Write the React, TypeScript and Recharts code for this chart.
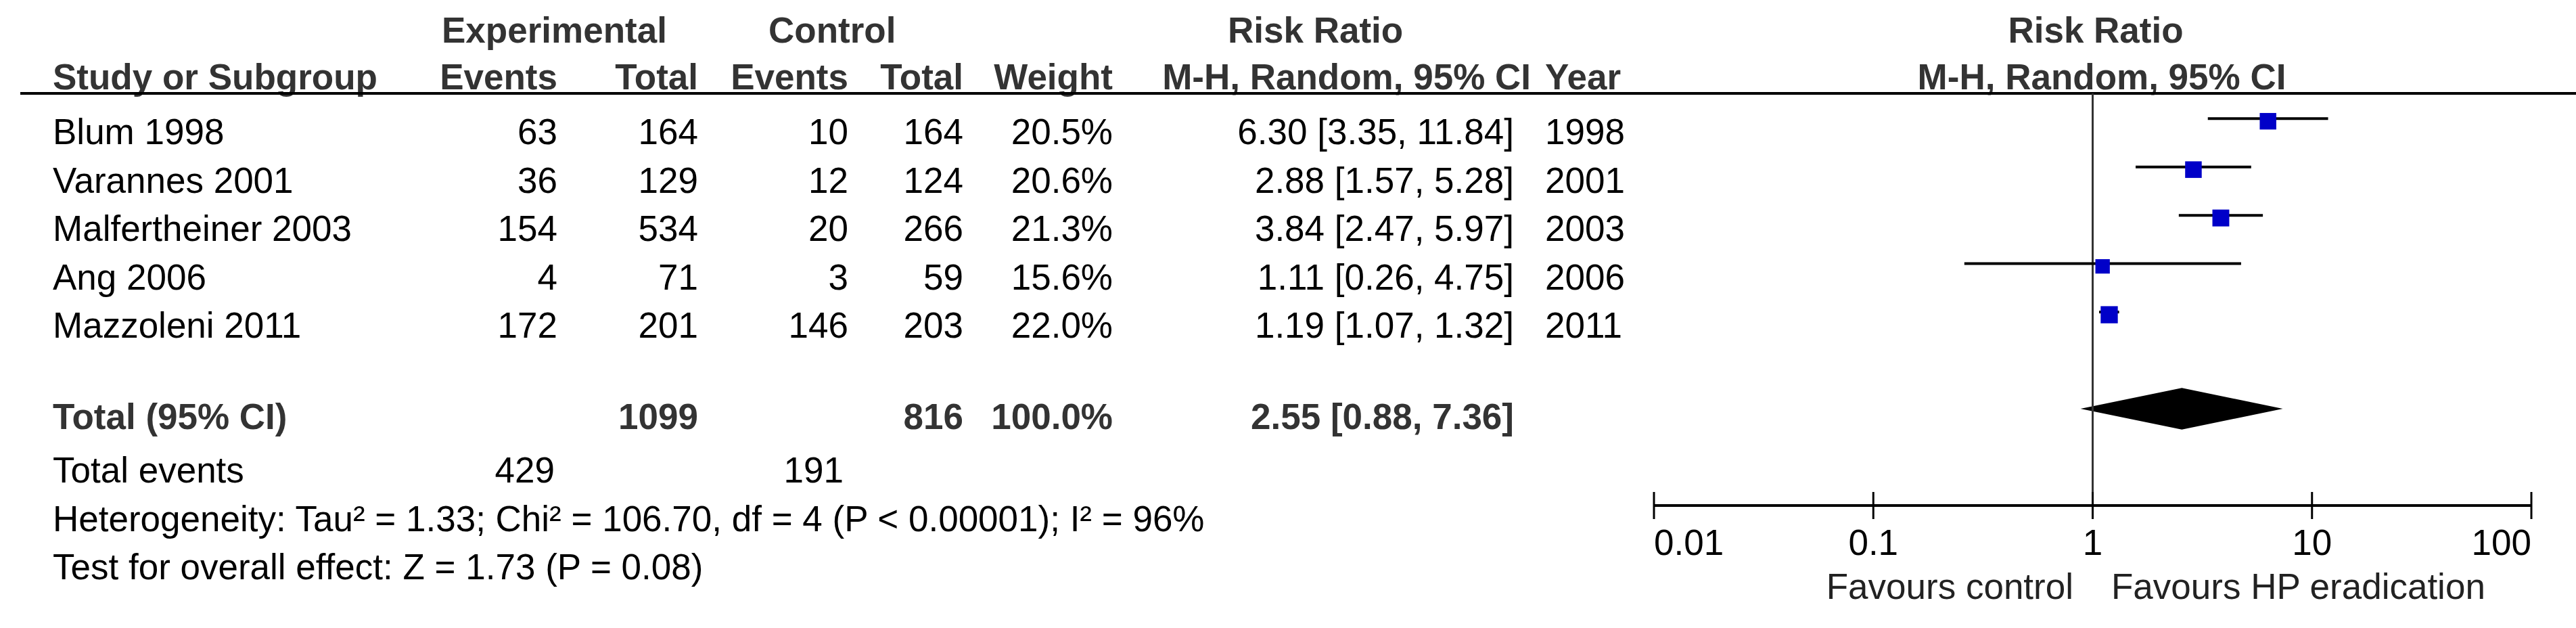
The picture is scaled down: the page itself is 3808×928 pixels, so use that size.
import React from 'react';
import {
  ComposedChart,
  XAxis,
  YAxis,
  Scatter,
  ReferenceLine,
  ReferenceArea,
  Customized,
} from 'recharts';

// ---------------- data ----------------
const studies = ['Blum 1998', 'Varannes 2001', 'Malfertheiner 2003', 'Ang 2006', 'Mazzoleni 2011'];
const expEvents = [63, 36, 154, 4, 172];
const expTotals = [164, 129, 534, 71, 201];
const ctrlEvents = [10, 12, 20, 3, 146];
const ctrlTotals = [164, 124, 266, 59, 203];
const weights = [20.5, 20.6, 21.3, 15.6, 22.0];
const riskRatios = [6.3, 2.88, 3.84, 1.11, 1.19];
const ciLows = [3.35, 1.57, 2.47, 0.26, 1.07];
const ciHighs = [11.84, 5.28, 5.97, 4.75, 1.32];
const years = [1998, 2001, 2003, 2006, 2011];

const totalExpN = 1099;
const totalCtrlN = 816;
const totalWeight = 100.0;
const totalRR = 2.55;
const totalLow = 0.88;
const totalHigh = 7.36;
const totalExpEvents = 429;
const totalCtrlEvents = 191;
const heterogeneityText = 'Heterogeneity: Tau\u00B2 = 1.33; Chi\u00B2 = 106.70, df = 4 (P < 0.00001); I\u00B2 = 96%';
const overallEffectText = 'Test for overall effect: Z = 1.73 (P = 0.08)';

const xTicks = [0.01, 0.1, 1, 10, 100];
const xTickLabels = ['0.01', '0.1', '1', '10', '100'];
const favoursLeft = 'Favours control';
const favoursRight = 'Favours HP eradication';

// row index of each study (0..4) and of the pooled estimate
const studyRows = [0, 1, 2, 3, 4];
const totalRow = 6;

// ---------------- layout ----------------
const W = 3808;
const H = 928;
const PLOT_LEFT = 2445;
const PLOT_RIGHT = 3742;
const PLOT_TOP = 138;
const PLOT_BOTTOM = 747;
const ROW_MIN = -0.52;
const ROW_MAX = 8;
const DIAMOND_HALF = 0.43;

const FONT = '"Liberation Sans", Arial, Helvetica, sans-serif';
const FS = 53;
const HEAD = '#333';

const COL = {
  name: 78,
  expEv: 824,
  expTot: 1032,
  ctlEv: 1254,
  ctlTot: 1424,
  weight: 1645,
  ci: 2238,
  ciHead: 2263,
  year: 2284,
  expHead: 653,
  ctlHead: 1136,
  rrHead: 1815,
};
const BASE = {
  h1: 63,
  h2: 132,
  firstRow: 213,
  rowStep: 71.5,
  total: 634,
  events: 713,
  het: 785,
  test: 856,
  tick: 73,
  favours: 885,
};

const fmt2 = (v: number) => v.toFixed(2);
const ciText = (r: number, l: number, h: number) => `${fmt2(r)} [${fmt2(l)}, ${fmt2(h)}]`;

const points = studies.map((s, i) => ({
  x: riskRatios[i],
  y: studyRows[i],
  weight: weights[i],
}));

type TProps = {
  x: number;
  y: number;
  anchor?: 'start' | 'middle' | 'end';
  bold?: boolean;
  color?: string;
  children: React.ReactNode;
};
const T = ({ x, y, anchor = 'start', bold = false, color = '#000', children }: TProps) => (
  <text
    x={x}
    y={y}
    textAnchor={anchor}
    fontFamily={FONT}
    fontSize={FS}
    fontWeight={bold ? 'bold' : 'normal'}
    fill={color}
  >
    {children}
  </text>
);

const TableLayer = () => {
  const plotMid = 3100;
  return (
    <g>
      {/* header row 1 */}
      <T x={COL.expHead} y={BASE.h1} bold color={HEAD}>Experimental</T>
      <T x={COL.ctlHead} y={BASE.h1} bold color={HEAD}>Control</T>
      <T x={COL.rrHead} y={BASE.h1} bold color={HEAD}>Risk Ratio</T>
      <T x={3098} y={BASE.h1} anchor="middle" bold color={HEAD}>Risk Ratio</T>
      {/* header row 2 */}
      <T x={COL.name} y={BASE.h2} bold color={HEAD}>Study or Subgroup</T>
      <T x={COL.expEv} y={BASE.h2} anchor="end" bold color={HEAD}>Events</T>
      <T x={COL.expTot} y={BASE.h2} anchor="end" bold color={HEAD}>Total</T>
      <T x={COL.ctlEv} y={BASE.h2} anchor="end" bold color={HEAD}>Events</T>
      <T x={COL.ctlTot} y={BASE.h2} anchor="end" bold color={HEAD}>Total</T>
      <T x={COL.weight} y={BASE.h2} anchor="end" bold color={HEAD}>Weight</T>
      <T x={COL.ciHead} y={BASE.h2} anchor="end" bold color={HEAD}>M-H, Random, 95% CI</T>
      <T x={COL.year} y={BASE.h2} bold color={HEAD}>Year</T>
      <T x={3107} y={BASE.h2} anchor="middle" bold color={HEAD}>M-H, Random, 95% CI</T>
      <line x1={30} x2={W} y1={PLOT_TOP} y2={PLOT_TOP} stroke="#000" strokeWidth={4} />

      {/* study rows */}
      {studies.map((s, i) => {
        const y = BASE.firstRow + BASE.rowStep * studyRows[i];
        return (
          <g key={s}>
            <T x={COL.name} y={y}>{s}</T>
            <T x={COL.expEv} y={y} anchor="end">{expEvents[i]}</T>
            <T x={COL.expTot} y={y} anchor="end">{expTotals[i]}</T>
            <T x={COL.ctlEv} y={y} anchor="end">{ctrlEvents[i]}</T>
            <T x={COL.ctlTot} y={y} anchor="end">{ctrlTotals[i]}</T>
            <T x={COL.weight} y={y} anchor="end">{`${weights[i].toFixed(1)}%`}</T>
            <T x={COL.ci} y={y} anchor="end">{ciText(riskRatios[i], ciLows[i], ciHighs[i])}</T>
            <T x={COL.year} y={y}>{years[i]}</T>
          </g>
        );
      })}

      {/* total row */}
      <T x={COL.name} y={BASE.total} bold color={HEAD}>Total (95% CI)</T>
      <T x={COL.expTot} y={BASE.total} anchor="end" bold color={HEAD}>{totalExpN}</T>
      <T x={COL.ctlTot} y={BASE.total} anchor="end" bold color={HEAD}>{totalCtrlN}</T>
      <T x={COL.weight} y={BASE.total} anchor="end" bold color={HEAD}>{`${totalWeight.toFixed(1)}%`}</T>
      <T x={COL.ci} y={BASE.total} anchor="end" bold color={HEAD}>{ciText(totalRR, totalLow, totalHigh)}</T>

      <T x={COL.name} y={BASE.events}>Total events</T>
      <T x={COL.expEv - 4} y={BASE.events} anchor="end">{totalExpEvents}</T>
      <T x={COL.ctlEv - 7} y={BASE.events} anchor="end">{totalCtrlEvents}</T>
      <T x={COL.name} y={BASE.het}>{heterogeneityText}</T>
      <T x={COL.name} y={BASE.test}>{overallEffectText}</T>

      {/* favours labels */}
      <T x={plotMid - 35} y={BASE.favours} anchor="end" color="#222">{favoursLeft}</T>
      <T x={plotMid + 21} y={BASE.favours} color="#222">{favoursRight}</T>
    </g>
  );
};

const AxisTick = (props: any) => {
  const { x, y, index } = props;
  const anchor = index === 0 ? 'start' : index === xTicks.length - 1 ? 'end' : 'middle';
  return (
    <g>
      <line x1={x} x2={x} y1={y - 20} y2={y + 20} stroke="#000" strokeWidth={3} />
      <text x={x} y={y + BASE.tick} textAnchor={anchor} fontFamily={FONT} fontSize={FS} fill="#000">
        {xTickLabels[index]}
      </text>
    </g>
  );
};

const SquareShape = (props: any) => {
  const { cx, cy, payload } = props;
  const side = 5.4 * Math.sqrt(payload.weight);
  return <rect x={cx - side / 2} y={cy - side / 2 + 4} width={side} height={side} fill="#0000C8" />;
};

const DiamondShape = (props: any) => {
  const { x, y, width, height } = props;
  const t = (Math.log(totalRR) - Math.log(totalLow)) / (Math.log(totalHigh) - Math.log(totalLow));
  const cx = x + t * width;
  const cy = y + height / 2;
  return (
    <polygon
      points={`${x},${cy} ${cx},${y} ${x + width},${cy} ${cx},${y + height}`}
      fill="#000"
      stroke="none"
    />
  );
};

export default function App() {
  return (
    <div style={{ position: 'absolute', left: 0, top: 0, width: W, height: H, background: '#fff' }}>
      <ComposedChart
        width={W}
        height={H}
        margin={{ top: PLOT_TOP, right: W - PLOT_RIGHT, bottom: 0, left: PLOT_LEFT }}
      >
        <XAxis
          type="number"
          dataKey="x"
          scale="log"
          domain={[0.01, 100]}
          allowDataOverflow
          ticks={xTicks}
          interval={0}
          height={H - PLOT_BOTTOM}
          tickSize={0}
          tickMargin={0}
          tickLine={false}
          axisLine={{ stroke: '#000', strokeWidth: 4 }}
          tick={(p: any) => <AxisTick {...p} />}
        />
        <YAxis type="number" dataKey="y" domain={[ROW_MIN, ROW_MAX]} reversed allowDataOverflow hide />
        <ReferenceLine x={1} stroke="#333" strokeWidth={3} ifOverflow="visible" />
        {studies.map((s, i) => (
          <ReferenceLine
            key={s}
            segment={[
              { x: ciLows[i], y: studyRows[i] },
              { x: ciHighs[i], y: studyRows[i] },
            ]}
            stroke="#000"
            strokeWidth={4}
            ifOverflow="visible"
          />
        ))}
        <ReferenceArea
          x1={totalLow}
          x2={totalHigh}
          y1={totalRow - DIAMOND_HALF}
          y2={totalRow + DIAMOND_HALF}
          shape={(p: any) => <DiamondShape {...p} />}
          ifOverflow="visible"
        />
        <Scatter data={points} isAnimationActive={false} shape={(p: any) => <SquareShape {...p} />} />
        <Customized component={<TableLayer />} />
      </ComposedChart>
    </div>
  );
}
